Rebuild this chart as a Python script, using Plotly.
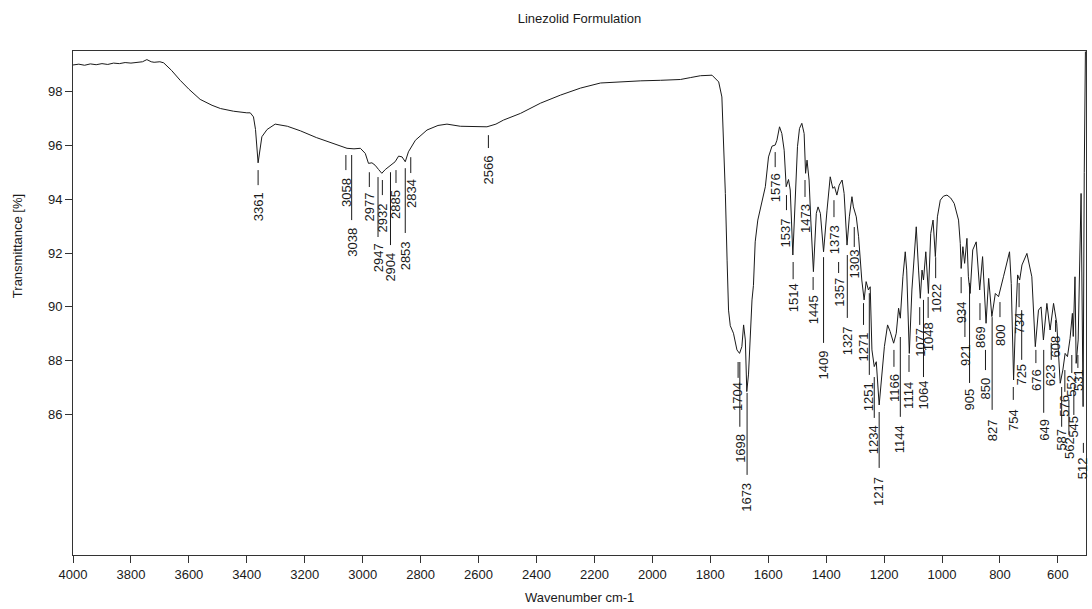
import plotly.graph_objects as go

# Spectrum (wavenumber cm-1, transmittance %)
wavenumber = [4000, 3980, 3960, 3940, 3920, 3900, 3880, 3860, 3840, 3820, 3800, 3780, 3760, 3745, 3730,
              3720, 3700, 3687, 3660, 3630, 3600, 3561, 3520, 3491, 3446, 3400, 3388, 3377, 3370, 3361,
              3352, 3348, 3330, 3302, 3260, 3215, 3160, 3100, 3054, 3030, 3008, 2991, 2980, 2968, 2957,
              2945, 2934, 2922, 2905, 2888, 2876, 2864, 2853, 2842, 2818, 2778, 2740, 2709, 2663, 2600,
              2571, 2540, 2514, 2455, 2386, 2317, 2248, 2179, 2110, 2040, 1972, 1903, 1869, 1834, 1794,
              1771, 1760, 1754, 1748, 1742, 1737, 1731, 1720, 1708, 1699, 1691, 1685, 1679, 1674, 1668,
              1662, 1656, 1651, 1645, 1636, 1610, 1599, 1587, 1576, 1570, 1561, 1553, 1545, 1538, 1530,
              1524, 1515, 1507, 1499, 1492, 1484, 1476, 1471, 1466, 1459, 1453, 1444, 1434, 1428, 1420,
              1409, 1397, 1386, 1377, 1371, 1363, 1355, 1345, 1338, 1328, 1320, 1311, 1306, 1296, 1288,
              1277, 1269, 1262, 1254, 1248, 1242, 1234, 1227, 1217, 1207, 1199, 1188, 1179, 1167, 1158,
              1150, 1144, 1135, 1127, 1122, 1113, 1104, 1096, 1089, 1081, 1075, 1069, 1064, 1056, 1047,
              1039, 1031, 1023, 1016, 1006, 995, 983, 970, 958, 943, 937, 934, 928, 922, 914,
              909, 903, 894, 882, 870, 860, 853, 848, 839, 828, 816, 805, 788, 767, 761,
              753, 747, 739, 732, 724, 707, 690, 678, 667, 658, 650, 638, 627, 615, 604,
              592, 583, 575, 567, 558, 550, 547, 541, 537, 530, 520, 516, 513, 509, 505]
transmittance = [99.00, 99.03, 98.99, 99.04, 99.01, 99.05, 99.02, 99.07, 99.05, 99.09, 99.07, 99.10, 99.12, 99.20, 99.12,
                 99.10, 99.12, 99.08, 98.80, 98.43, 98.10, 97.72, 97.50, 97.38, 97.28, 97.22, 97.22, 97.07, 96.60, 95.36,
                 96.00, 96.33, 96.60, 96.80, 96.72, 96.55, 96.30, 96.08, 95.90, 95.88, 95.90, 95.71, 95.34, 95.36, 95.27,
                 95.11, 94.97, 95.11, 95.27, 95.40, 95.61, 95.58, 95.40, 95.77, 96.20, 96.58, 96.75, 96.80, 96.72, 96.70,
                 96.70, 96.80, 96.95, 97.20, 97.58, 97.88, 98.14, 98.33, 98.38, 98.41, 98.43, 98.46, 98.53, 98.60, 98.62,
                 98.37, 97.81, 96.08, 94.22, 91.74, 89.88, 89.30, 89.02, 88.40, 88.27, 88.52, 89.33, 88.77, 86.85, 87.50,
                 89.00, 90.26, 90.80, 92.42, 93.23, 94.47, 95.58, 95.98, 96.02, 96.20, 96.70, 96.45, 95.83, 94.47, 94.74,
                 94.35, 91.93, 94.22, 95.96, 96.64, 96.83, 96.45, 94.97, 95.46, 94.72, 93.23, 91.31, 93.48, 93.72, 93.48,
                 92.05, 93.60, 94.84, 94.41, 94.47, 94.16, 94.53, 94.72, 94.22, 92.30, 93.35, 94.10, 93.72, 93.35, 92.61,
                 91.00, 90.26, 90.94, 90.63, 90.75, 88.40, 87.78, 87.96, 86.35, 87.65, 88.52, 89.33, 89.08, 88.65, 89.02,
                 89.95, 89.58, 91.12, 92.05, 91.37, 88.27, 90.63, 92.12, 92.98, 91.37, 90.32, 91.37, 91.00, 92.05, 90.50,
                 92.73, 93.23, 91.87, 93.35, 93.97, 94.12, 94.16, 94.05, 93.85, 93.23, 92.36, 91.43, 92.24, 91.62, 92.55,
                 91.12, 90.50, 92.12, 92.42, 90.63, 91.87, 90.13, 89.39, 91.06, 89.64, 90.50, 90.38, 91.12, 92.05, 90.87,
                 87.28, 89.26, 91.19, 91.00, 91.56, 91.99, 91.12, 88.52, 89.88, 90.00, 88.77, 90.13, 89.14, 90.13, 89.39,
                 87.16, 87.65, 88.27, 88.15, 88.83, 89.76, 88.90, 91.12, 87.90, 88.77, 94.22, 87.90, 86.29, 95.00, 99.50]

# Peak labels: wavenumber, marker top, marker bottom, label centre (in transmittance %)
peak_wn = [3361, 3058, 3038, 2977, 2947, 2932, 2904, 2885, 2853, 2834, 2566, 1704, 1698, 1673,
           1576, 1537, 1514, 1473, 1445, 1409, 1373, 1357, 1327, 1303, 1271, 1251, 1234, 1217,
           1166, 1144, 1114, 1077, 1064, 1048, 1022, 934, 921, 905, 869, 850, 827, 800,
           754, 734, 725, 676, 649, 623, 608, 587, 576, 562, 552, 545, 531, 512]
peak_top = [95.09, 95.65, 95.65, 95.01, 94.83, 94.72, 95.01, 95.09, 95.16, 95.57, 96.39, 87.95, 87.95, 86.80,
            95.76, 94.16, 91.67, 94.72, 91.11, 91.85, 93.97, 91.67, 91.93, 92.97, 90.14, 90.51, 87.39, 86.09,
            88.40, 88.88, 88.21, 89.99, 90.26, 90.37, 91.85, 91.11, 89.88, 90.89, 90.14, 88.40, 89.62, 90.18,
            87.02, 90.89, 89.88, 88.40, 88.40, 88.66, 89.51, 87.02, 87.65, 86.54, 88.21, 86.91, 88.21, 84.94]
peak_bottom = [94.53, 95.09, 93.23, 94.46, 92.60, 94.16, 92.30, 94.61, 92.75, 94.98, 95.91, 87.36, 85.54, 83.75,
               95.20, 93.60, 91.03, 94.09, 90.63, 88.66, 93.34, 91.26, 89.59, 92.23, 89.33, 87.47, 85.87, 84.01,
               87.77, 85.91, 87.58, 89.33, 87.39, 89.59, 91.07, 90.51, 88.88, 87.17, 89.51, 87.65, 86.17, 89.62,
               86.54, 89.99, 88.03, 87.91, 86.06, 88.03, 89.07, 85.54, 86.84, 85.24, 87.54, 85.98, 87.73, 84.57]
peak_text = [93.71, 94.27, 92.41, 93.71, 91.81, 93.30, 91.48, 93.83, 91.89, 94.23, 95.09, 86.65, 84.75, 82.90,
             94.42, 92.75, 90.33, 93.27, 89.88, 87.84, 92.52, 90.55, 88.73, 91.59, 88.51, 86.65, 85.05, 83.12,
             86.98, 85.09, 86.69, 88.69, 86.72, 88.88, 90.33, 89.81, 88.21, 86.54, 88.88, 86.98, 85.42, 88.95,
             85.80, 89.40, 87.47, 87.28, 85.42, 87.47, 88.51, 85.05, 86.32, 84.75, 87.06, 85.54, 87.28, 84.01]

x_ticks = [4000, 3800, 3600, 3400, 3200, 3000, 2800, 2600, 2400, 2200, 2000, 1800, 1600, 1400, 1200, 1000, 800, 600]
y_ticks = [86, 88, 90, 92, 94, 96, 98]

FONT = "Liberation Sans, Arial, sans-serif"
INK = "#1a1a1a"

fig = go.Figure()
fig.add_trace(go.Scatter(x=wavenumber, y=transmittance, mode="lines",
                         line=dict(color=INK, width=1), hoverinfo="skip", showlegend=False))

mx, my = [], []
for w, t, b in zip(peak_wn, peak_top, peak_bottom):
    mx += [w, w, None]
    my += [t, b, None]
fig.add_trace(go.Scatter(x=mx, y=my, mode="lines", line=dict(color=INK, width=1),
                         hoverinfo="skip", showlegend=False))

for w, ty in zip(peak_wn, peak_text):
    fig.add_annotation(x=w, y=ty, text=str(w), showarrow=False, textangle=-90,
                       xanchor="center", yanchor="middle",
                       font=dict(family=FONT, size=13, color=INK))

# axis titles
fig.add_annotation(xref="paper", yref="y", x=0, y=92.26, xshift=-56, text="Transmittance [%]",
                   showarrow=False, textangle=-90, xanchor="center", yanchor="middle",
                   font=dict(family=FONT, size=13, color=INK))
fig.add_annotation(xref="paper", yref="paper", x=0.5, y=0, yshift=-42, text="Wavenumber cm-1",
                   showarrow=False, xanchor="center", yanchor="middle",
                   font=dict(family=FONT, size=13, color=INK))

fig.update_layout(
    width=1092, height=609,
    margin=dict(l=73, r=6, t=51, b=54, autoexpand=False),
    paper_bgcolor="white", plot_bgcolor="white",
    title=dict(text="Linezolid Formulation", x=0.5, xanchor="center", xref="paper",
               y=1 - 18 / 609, yanchor="middle", yref="container",
               font=dict(family=FONT, size=13, color=INK)),
    font=dict(family=FONT, size=13, color=INK),
)
fig.update_xaxes(range=[4000, 503], tickvals=x_ticks, ticks="outside", ticklen=7, tickcolor="#333",
                 showgrid=False, zeroline=False, showline=True, linecolor="#333", linewidth=1, mirror=True,
                 automargin=False, tickfont=dict(size=13))
fig.update_yaxes(range=[80.77, 99.52], tickvals=y_ticks, ticks="outside", ticklen=7, tickcolor="#333",
                 showgrid=False, zeroline=False, showline=True, linecolor="#333", linewidth=1, mirror=True,
                 automargin=False, tickfont=dict(size=13))

fig.write_html("out.html", config={"displayModeBar": False},
               post_script="document.body.style.margin='0px';")
